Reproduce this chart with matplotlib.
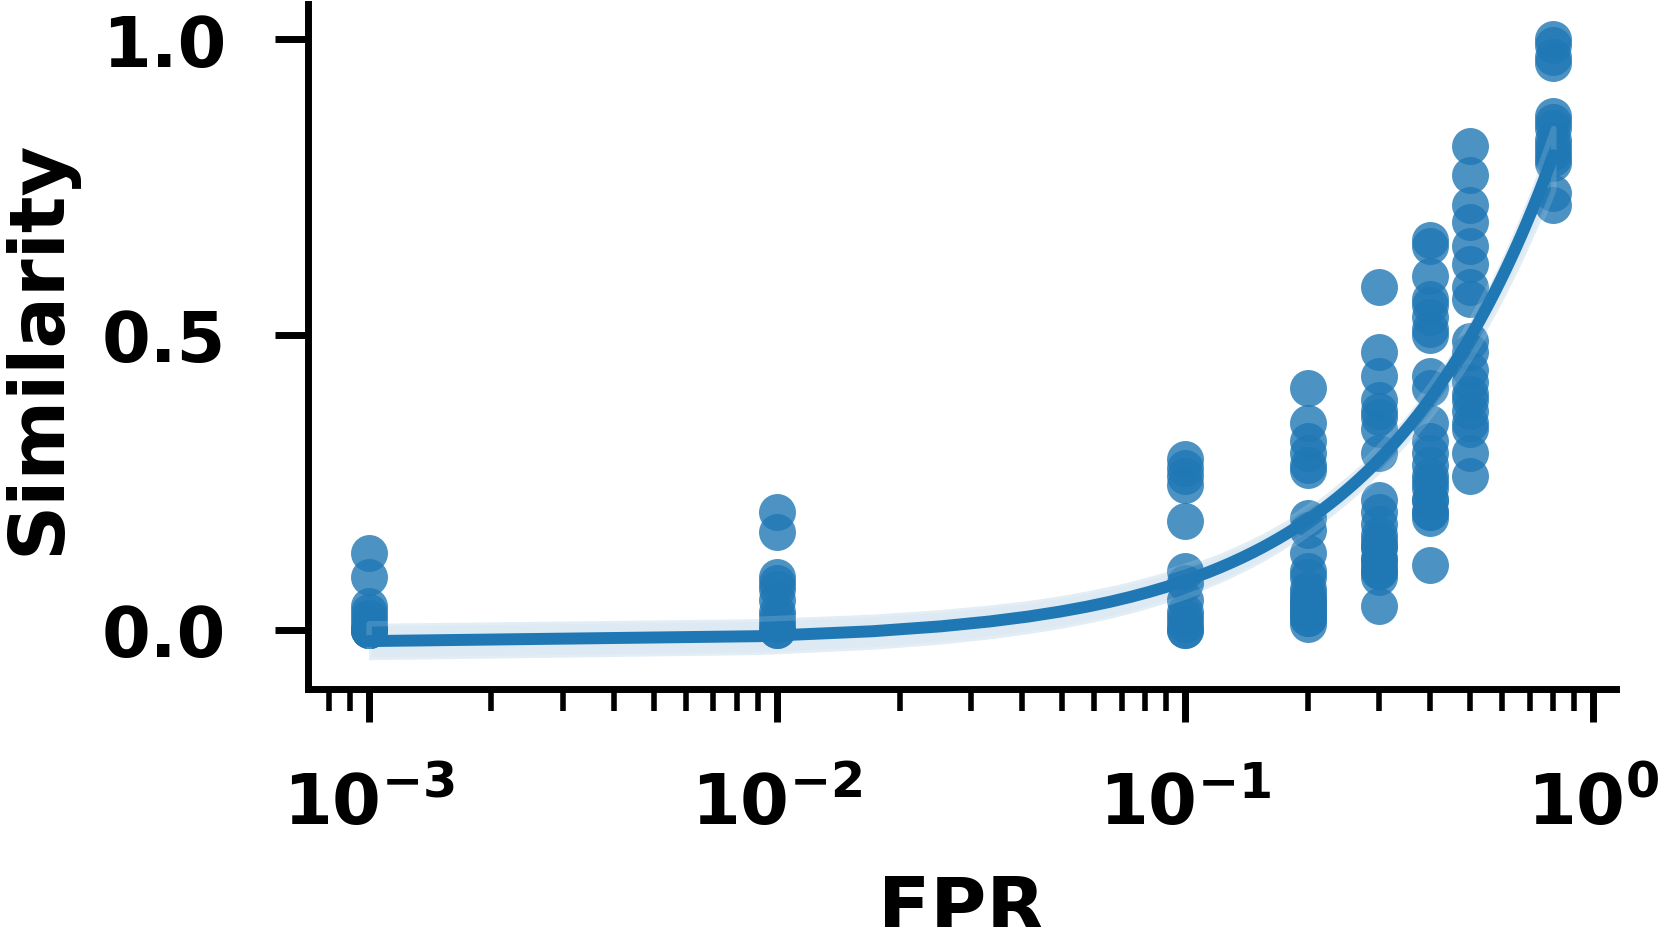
import numpy as np
import matplotlib
matplotlib.use('Agg')
import matplotlib.pyplot as plt
import seaborn as sns

# similarity values, one list per FPR level
fpr_levels = [0.001, 0.01, 0.1, 0.2, 0.3, 0.4, 0.5, 0.8]
sim_001 = [0.13, 0.09, 0.04, 0.03, 0.02, 0.01, 0.0, 0.0, 0.0, 0.0]
sim_01 = [0.20, 0.165, 0.09, 0.08, 0.07, 0.05, 0.03, 0.02, 0.01, 0.0, 0.0]
sim_1 = [0.29, 0.275, 0.26, 0.245, 0.185, 0.10, 0.08, 0.05, 0.03, 0.02, 0.01, 0.0, 0.0]
sim_2 = [0.41, 0.35, 0.32, 0.30, 0.28, 0.27, 0.19, 0.17, 0.13, 0.10, 0.09,
         0.07, 0.06, 0.05, 0.05, 0.04, 0.04, 0.03, 0.03, 0.02, 0.02, 0.01]
sim_3 = [0.58, 0.47, 0.43, 0.39, 0.37, 0.36, 0.34, 0.30, 0.22, 0.20, 0.18,
         0.16, 0.15, 0.14, 0.14, 0.12, 0.12, 0.11, 0.10, 0.10, 0.09, 0.04]
sim_4 = [0.66, 0.65, 0.60, 0.56, 0.55, 0.53, 0.51, 0.50, 0.43, 0.41, 0.35,
         0.32, 0.30, 0.28, 0.26, 0.25, 0.24, 0.22, 0.22, 0.20, 0.20, 0.19, 0.11]
sim_5 = [0.82, 0.77, 0.72, 0.69, 0.65, 0.62, 0.58, 0.56, 0.49, 0.47, 0.44,
         0.42, 0.40, 0.39, 0.37, 0.35, 0.34, 0.30, 0.26]
sim_8 = [1.0, 0.99, 0.97, 0.96, 0.87, 0.86, 0.85, 0.83, 0.82, 0.81, 0.80,
         0.79, 0.74, 0.72]

groups = [sim_001, sim_01, sim_1, sim_2, sim_3, sim_4, sim_5, sim_8]
fpr = np.concatenate([[f] * len(g) for f, g in zip(fpr_levels, groups)])
sim = np.concatenate(groups)

sns.set_theme(style='ticks', context='poster', font_scale=1.15)
plt.rcParams['font.family'] = ['DejaVu Sans']
plt.rcParams['font.weight'] = 'bold'
plt.rcParams['axes.labelweight'] = 'bold'
for key in ['text.color', 'axes.labelcolor', 'xtick.color', 'ytick.color', 'axes.edgecolor']:
    plt.rcParams[key] = 'black'

fig = plt.figure(figsize=(8.305, 4.64), dpi=200)
ax = fig.add_axes([0.1854, 0.2565, 0.7875, 0.7381])

sns.regplot(x=fpr, y=sim, ax=ax, color='#1f77b4', seed=0,
            scatter_kws=dict(s=177, alpha=0.8, linewidths=0),
            line_kws=dict(lw=4.3))

ax.set_xscale('log')
ax.set_xlim(7.1e-4, 1.14)
ax.set_ylim(-0.1, 1.06)
ax.set_yticks([0.0, 0.5, 1.0])
ax.set_yticklabels(['0.0', '0.5', '1.0'])
ax.tick_params(axis='x', which='both', pad=17)
ax.tick_params(axis='y', which='both', pad=17.5)
ax.set_xlabel('FPR', labelpad=12.5)
ax.set_ylabel('Similarity', labelpad=9)
sns.despine(ax=ax)

fig.savefig('out.png', dpi=200)
